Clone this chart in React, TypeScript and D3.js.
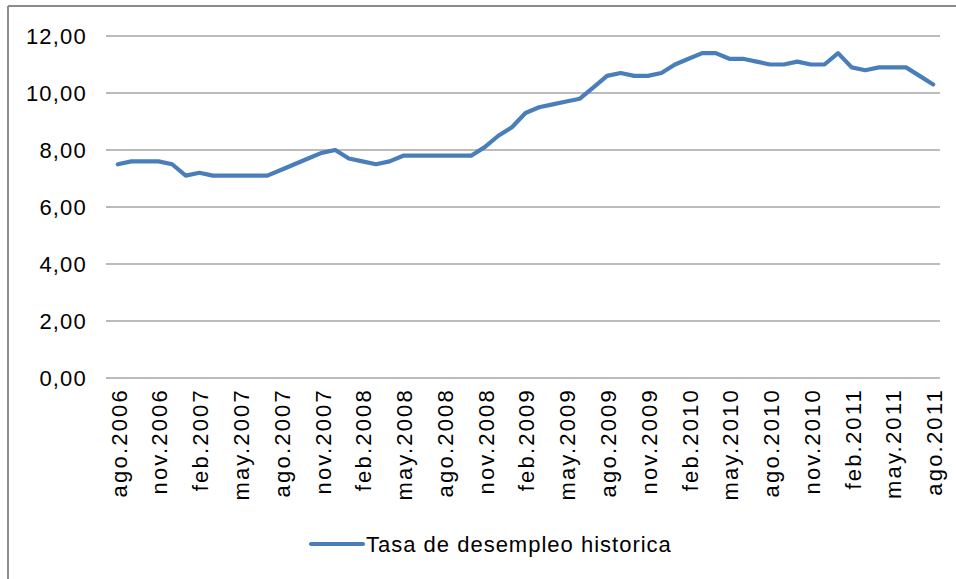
import React from "react";
import * as d3 from "d3";

const MONTHS = ["ene", "feb", "mar", "abr", "may", "jun", "jul", "ago", "sep", "oct", "nov", "dic"];
// monthly categories from ago.2006 to ago.2011
const categories: string[] = [];
for (let i = 0; i < 61; i++) {
  const m = (7 + i) % 12;
  const y = 2006 + Math.floor((7 + i) / 12);
  categories.push(`${MONTHS[m]}.${y}`);
}

const values = [
  7.5, 7.6, 7.6, 7.6, 7.5, 7.1, 7.2, 7.1, 7.1, 7.1, 7.1, 7.1,
  7.3, 7.5, 7.7, 7.9, 8.0, 7.7, 7.6, 7.5, 7.6, 7.8, 7.8, 7.8,
  7.8, 7.8, 7.8, 8.1, 8.5, 8.8, 9.3, 9.5, 9.6, 9.7, 9.8, 10.2,
  10.6, 10.7, 10.6, 10.6, 10.7, 11.0, 11.2, 11.4, 11.4, 11.2, 11.2, 11.1,
  11.0, 11.0, 11.1, 11.0, 11.0, 11.4, 10.9, 10.8, 10.9, 10.9, 10.9, 10.6,
  10.3,
];

const yTicks = [0, 2, 4, 6, 8, 10, 12];
const seriesName = "Tasa de desempleo historica";

const W = 956;
const H = 579;
const plot = { left: 111, right: 940, top: 36, bottom: 378 };
const FONT = "'Liberation Sans', Arial, sans-serif";

export default function App() {
  const x = d3
    .scalePoint<string>()
    .domain(categories)
    .range([plot.left, plot.right])
    .padding(0.5);
  const y = d3.scaleLinear().domain([0, 12]).range([plot.bottom, plot.top]);
  const line = d3
    .line<number>()
    .x((_, i) => x(categories[i]) as number)
    .y((d) => y(d));

  const fmt = (v: number) => v.toFixed(2).replace(".", ",");
  const labelCats = categories.filter((_, i) => i % 3 === 0);

  return (
    <svg
      width={W}
      height={H}
      style={{ position: "absolute", left: 0, top: 0, background: "#fff" }}
      fontFamily={FONT}
    >
      <rect x={0} y={0} width={W} height={H} fill="#fff" />
      {/* chart frame */}
      <line x1={8} y1={6} x2={W} y2={6} stroke="#8c8c8c" strokeWidth={2} />
      <line x1={8} y1={6} x2={8} y2={H} stroke="#8c8c8c" strokeWidth={2} />

      {/* gridlines */}
      {yTicks.map((t) => (
        <line
          key={"g" + t}
          x1={plot.left}
          x2={plot.right}
          y1={y(t)}
          y2={y(t)}
          stroke="#a6a6a6"
          strokeWidth={1.6}
        />
      ))}
      {/* y tick marks */}
      {yTicks.map((t) => (
        <line
          key={"t" + t}
          x1={plot.left - 5}
          x2={plot.left}
          y1={y(t)}
          y2={y(t)}
          stroke="#a6a6a6"
          strokeWidth={1.6}
        />
      ))}
      {/* y labels */}
      {yTicks.map((t) => (
        <text
          key={"l" + t}
          x={87}
          y={y(t)}
          dy="0.36em"
          textAnchor="end"
          fontSize={22}
          letterSpacing={1.2}
          fill="#000"
        >
          {fmt(t)}
        </text>
      ))}
      {/* x labels */}
      {labelCats.map((c) => (
        <text
          key={c}
          transform={`translate(${(x(c) as number) + 1},${plot.bottom + 10}) rotate(-90)`}
          textAnchor="start"
          dy="0.36em"
          fontSize={22}
          letterSpacing={2.2}
          fill="#000"
          style={{ textAnchor: "end" }}
        >
          {c}
        </text>
      ))}

      {/* series */}
      <path
        d={line(values) || ""}
        fill="none"
        stroke="#4a7ebb"
        strokeWidth={4.2}
        strokeLinejoin="round"
        strokeLinecap="round"
      />

      {/* legend */}
      <line x1={311} x2={363} y1={544} y2={544} stroke="#4a7ebb" strokeWidth={4.2} strokeLinecap="round" />
      <text x={366} y={544} dy="0.36em" fontSize={22} letterSpacing={1} fill="#000">
        {seriesName}
      </text>
    </svg>
  );
}
